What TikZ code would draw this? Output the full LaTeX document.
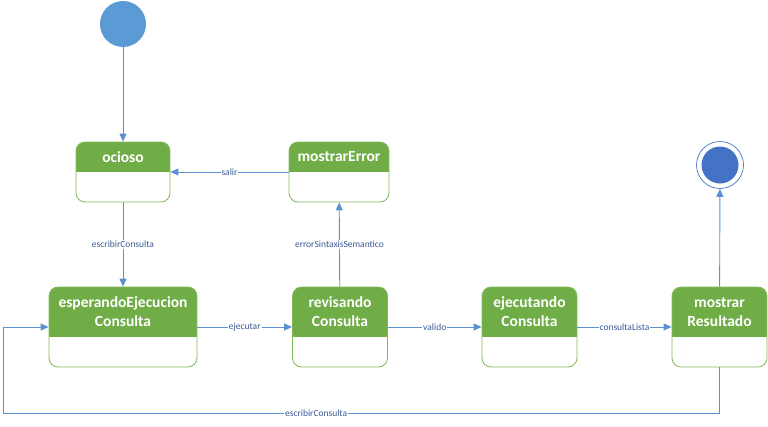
\documentclass[tikz,border=0pt]{standalone}
\usepackage{fontspec}
\setmainfont{Carlito}
\usetikzlibrary{arrows.meta}
\definecolor{verde}{RGB}{112,173,71}
\definecolor{verdeborde}{RGB}{130,185,90}
\definecolor{linea}{RGB}{91,145,210}
\definecolor{texto}{RGB}{60,90,150}
\definecolor{inicio}{RGB}{91,155,213}
\definecolor{fin}{RGB}{68,114,196}
\tikzset{
  estado/.style n args={3}{draw=verdeborde, line width=0.8pt, rounded corners=9pt,
    minimum width=#1, minimum height=#2, inner sep=0pt, fill=white,
    path picture={\fill[verde, sharp corners] (path picture bounding box.north west)
      rectangle ([yshift=-#3]path picture bounding box.north east);}},
  titulo/.style={text=white, font=\fontsize{15.5}{19}\selectfont\bfseries, align=center, inner sep=0pt},
  flecha/.style={draw=linea, line width=0.9pt, -{Triangle[width=7pt,length=8pt]}},
  etiqueta/.style={fill=white, text=texto, font=\fontsize{9.5}{10}\selectfont, inner sep=1pt}
}
\begin{document}
\begin{tikzpicture}[x=1pt,y=-1pt]
\useasboundingbox (0,0) rectangle (768,426);
% estados inicial y final
\node (ini) [circle, fill=inicio, minimum size=46pt, inner sep=0pt] at (123,24) {};
\node (fin) [circle, draw=fin, line width=0.7pt, fill=white, minimum size=47pt, inner sep=0pt] at (720,165) {};
\fill[fin] (fin.center) circle (18.5pt);
% estados
\node (ocioso) [estado={94pt}{60pt}{30pt}] at (123,172) {};
\node (mostrarError) [estado={100pt}{60pt}{30pt}] at (339,172) {};
\node (esperando) [estado={148pt}{80pt}{50pt}] at (123,327) {};
\node (revisando) [estado={95pt}{80pt}{50pt}] at (340,327) {};
\node (ejecutando) [estado={95pt}{80pt}{50pt}] at (529.5,327) {};
\node (resultado) [estado={95pt}{80pt}{50pt}] at (719.5,327) {};
% titulos
\node (ociosoT) [titulo] at (123,157) {ocioso};
\node (mostrarErrorT) [titulo] at (339,157) {mostrarError};
\node (esperandoT) [titulo] at (123,312) {esperandoEjecucion\\Consulta};
\node (revisandoT) [titulo] at (340,312) {revisando\\Consulta};
\node (ejecutandoT) [titulo] at (529.5,312) {ejecutando\\Consulta};
\node (resultadoT) [titulo] at (719.5,312) {mostrar\\Resultado};
% transiciones
\draw[flecha] (ini) -- (ocioso);
\draw[flecha] (ocioso) -- node[etiqueta]{escribirConsulta} (esperando);
\draw[flecha] (mostrarError) -- node[etiqueta]{salir} (ocioso);
\draw[flecha] (esperando) -- node[etiqueta]{ejecutar} (revisando);
\draw[flecha] (revisando) -- node[etiqueta]{errorSintaxisSemantico} (mostrarError);
\draw[flecha] (revisando) -- node[etiqueta]{valido} (ejecutando);
\draw[flecha] (ejecutando) -- node[etiqueta]{consultaLista} (resultado);
\draw[flecha] (resultado) -- (fin);
\coordinate (vueltaD) at (719.5,413);
\coordinate (vueltaI) at (3,413);
\draw[flecha] (resultado.south) -- (vueltaD) -- node[etiqueta, pos=0.563]{escribirConsulta} (vueltaI) |- (esperando.west);
\end{tikzpicture}
\end{document}
